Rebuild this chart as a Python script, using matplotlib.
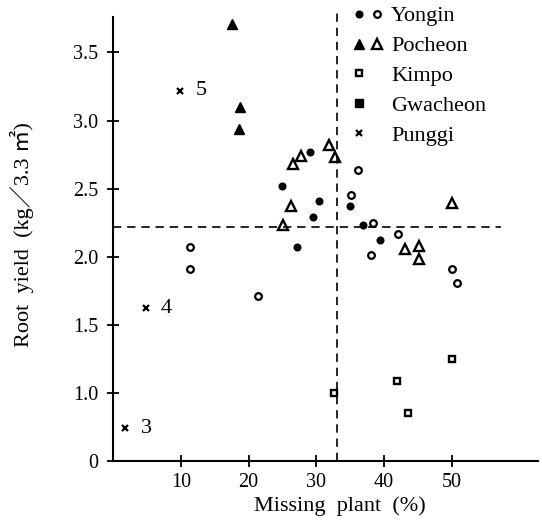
import matplotlib.pyplot as plt
from matplotlib.lines import Line2D
from matplotlib.legend_handler import HandlerTuple

plt.rcParams['font.family'] = ['Liberation Serif', 'Noto Sans CJK KR', 'DejaVu Sans']

# Yongin (filled and open circles)
yongin_f_x = [29.1, 25.0, 30.4, 29.5, 27.2, 35.0, 36.9, 39.4]
yongin_f_y = [2.77, 2.52, 2.41, 2.29, 2.07, 2.37, 2.23, 2.12]
yongin_o_x = [11.4, 11.4, 21.4, 36.2, 35.1, 38.4, 42.0, 38.1, 50.0, 50.8]
yongin_o_y = [2.07, 1.91, 1.71, 2.64, 2.45, 2.245, 2.17, 2.01, 1.91, 1.81]

# Pocheon (filled and open triangles)
pocheon_f_x = [17.5, 18.8, 18.6]
pocheon_f_y = [3.71, 3.10, 2.94]
pocheon_o_x = [26.5, 27.7, 31.9, 32.8, 26.3, 25.1, 50.0, 43.1, 45.2, 45.2]
pocheon_o_y = [2.68, 2.74, 2.82, 2.73, 2.37, 2.235, 2.395, 2.06, 2.08, 1.98]

# Kimpo (open squares)
kimpo_x = [32.6, 50.0, 41.9, 43.5]
kimpo_y = [1.00, 1.25, 1.09, 0.85]

# Gwacheon (filled squares) - none readable in the plot
gwacheon_x = []
gwacheon_y = []

# Punggi (x) with labels
punggi_x = [9.9, 4.8, 1.8]
punggi_y = [3.22, 1.62, 0.74]
punggi_lab = ['5', '4', '3']

mean_x = 33.0
mean_y = 2.22

yticks = [0.5, 1.0, 1.5, 2.0, 2.5, 3.0, 3.5]
ytick_labels = ['0', '1.0', '1.5', '2.0', '2.5', '3.0', '3.5']
xticks = [10, 20, 30, 40, 50]

fig = plt.figure(figsize=(5.42, 5.31), dpi=100)
ax = fig.add_axes([0.2085, 0.1318, 0.7841, 0.8362])

h_yf, = ax.plot(yongin_f_x, yongin_f_y, 'o', color='black', ms=4.8, ls='none')
h_yo, = ax.plot(yongin_o_x, yongin_o_y, 'o', mfc='white', mec='black', mew=1.6, ms=4.8, ls='none')
h_pf, = ax.plot(pocheon_f_x, pocheon_f_y, '^', color='black', ms=6.5, ls='none')
h_po, = ax.plot(pocheon_o_x, pocheon_o_y, '^', mfc='white', mec='black', mew=1.7, ms=6.5, ls='none')
h_k, = ax.plot(kimpo_x, kimpo_y, 's', mfc='white', mec='black', mew=1.7, ms=5, ls='none')
h_g, = ax.plot(gwacheon_x, gwacheon_y, 's', color='black', ms=6, ls='none')
h_p, = ax.plot(punggi_x, punggi_y, 'x', color='black', mew=1.6, ms=4.5, ls='none')
blank = Line2D([], [], ls='none', marker='none')

for x, y, t in zip(punggi_x, punggi_y, punggi_lab):
    ax.annotate(t, (x, y), xytext=(11, 0), textcoords='offset points',
                ha='left', va='center', fontsize=16)

ax.plot([0, 57.2], [mean_y, mean_y], color='black', lw=1.2, ls=(0, (5, 3.5)), clip_on=False)
ax.plot([mean_x, mean_x], [0.5, 3.82], color='black', lw=1.2, ls=(0, (5, 3.5)), clip_on=False)

ax.set_xlim(0, 62.7)
ax.set_ylim(0.5, 3.76)
ax.set_xticks(xticks)
ax.set_yticks(yticks)
ax.set_yticklabels(ytick_labels)
for s in ['top', 'right']:
    ax.spines[s].set_visible(False)
for s in ['left', 'bottom']:
    ax.spines[s].set_linewidth(1.5)
ax.tick_params(direction='inout', length=9, width=1.3, labelsize=14.5)
ax.tick_params(axis='y', pad=6)
ax.tick_params(axis='x', pad=4)

ax.set_xlabel('Missing  plant  (%)', fontsize=16)
ax.set_ylabel('Root  yield  (kg／3.3 ㎡)', fontsize=16)
ax.xaxis.set_label_coords(0.534, -0.08)
ax.yaxis.set_label_coords(-0.185, 0.509)

fig.legend([(h_yf, h_yo), (h_pf, h_po), (h_k, blank), (h_g, blank), (h_p, blank)],
           ['Yongin', 'Pocheon', 'Kimpo', 'Gwacheon', 'Punggi'],
           handler_map={tuple: HandlerTuple(ndivide=None, pad=0.1)},
           loc='upper left', bbox_to_anchor=(0.648, 0.989), frameon=False,
           borderpad=0, borderaxespad=0,
           fontsize=16, handlelength=1.5, handletextpad=0.3, labelspacing=0.42)

fig.savefig('out.png', dpi=100)
